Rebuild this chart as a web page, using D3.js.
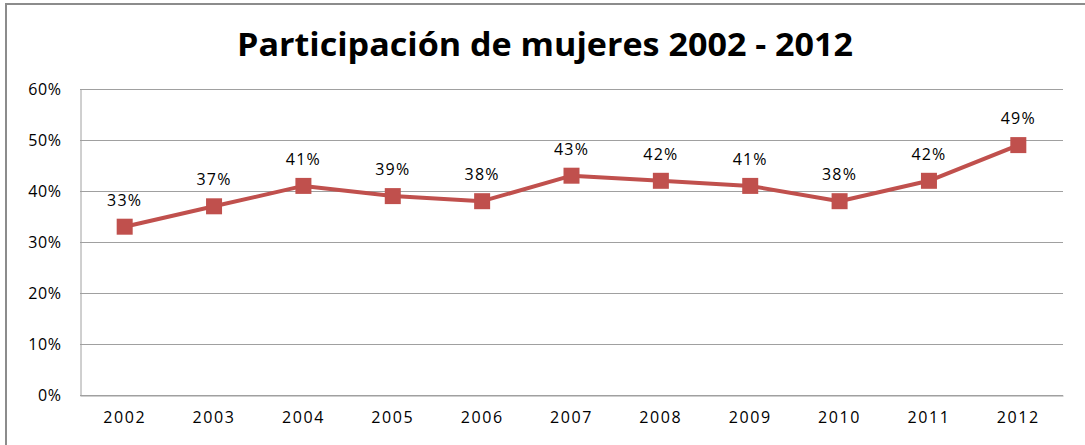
<!DOCTYPE html>
<html>
<head>
<meta charset="utf-8">
<script src="https://cdn.jsdelivr.net/npm/d3@7"></script>
<style>
  body { margin: 0; background: #fff; }
  svg { display: block; }
</style>
</head>
<body>
<svg id="chart" width="1085" height="445"></svg>
<script>
'use strict';

var years = ['2002', '2003', '2004', '2005', '2006', '2007', '2008', '2009', '2010', '2011', '2012'];
var shares = [0.33, 0.37, 0.41, 0.39, 0.38, 0.43, 0.42, 0.41, 0.38, 0.42, 0.49];
var yTicks = [0, 0.1, 0.2, 0.3, 0.4, 0.5, 0.6];
var title = 'Participación de mujeres 2002 - 2012';

var svg = d3.select('#chart');
var red = '#C0504D';
var font = '"Open Sans", sans-serif';
var plot = {left: 80, right: 1063, top: 89, bottom: 395};

// frame of the chart area (left and top edges visible)
svg.append('path')
    .attr('d', 'M6,445V4H1085')
    .attr('fill', 'none')
    .attr('stroke', '#8c8c8c')
    .attr('stroke-width', 2);

svg.append('text')
    .attr('x', 545)
    .attr('y', 56)
    .attr('text-anchor', 'middle')
    .attr('font-family', font)
    .attr('font-weight', 'bold')
    .attr('font-size', 33)
    .attr('textLength', 616)
    .attr('lengthAdjust', 'spacingAndGlyphs')
    .attr('fill', '#000')
    .text(title);

var x = d3.scaleBand()
    .domain(years)
    .range([plot.left, plot.right]);

var y = d3.scaleLinear()
    .domain([0, 0.6])
    .range([plot.bottom, plot.top]);

// gridlines
svg.append('g')
    .selectAll('line')
    .data(yTicks)
    .enter()
    .append('line')
    .attr('x1', plot.left)
    .attr('x2', plot.right)
    .attr('y1', function (d) { return Math.round(y(d)) + 0.5; })
    .attr('y2', function (d) { return Math.round(y(d)) + 0.5; })
    .attr('stroke', '#a0a0a0')
    .attr('stroke-width', 1);

// y axis
var yAxis = svg.append('g')
    .attr('transform', 'translate(' + (plot.left + 0.5) + ',0)')
    .call(d3.axisLeft(y).tickValues(yTicks).tickFormat(d3.format('.0%')).tickSize(0).tickPadding(19));
yAxis.select('.domain').attr('stroke', '#a0a0a0');
yAxis.selectAll('text')
    .attr('font-family', font)
    .attr('font-size', 16)
    .attr('letter-spacing', 0.6)
    .attr('fill', '#000');

// x axis
var xAxis = svg.append('g')
    .attr('transform', 'translate(0,' + (plot.bottom + 0.5) + ')')
    .call(d3.axisBottom(x).tickSize(0).tickPadding(16));
xAxis.select('.domain').attr('stroke', '#a0a0a0');
xAxis.selectAll('text')
    .attr('font-family', font)
    .attr('font-size', 16)
    .attr('letter-spacing', 1.6)
    .attr('fill', '#000');

var cx = function (d, i) { return x(years[i]) + x.bandwidth() / 2; };

var line = d3.line()
    .x(function (d, i) { return cx(d, i); })
    .y(function (d) { return y(d); });

svg.append('path')
    .datum(shares)
    .attr('d', line)
    .attr('fill', 'none')
    .attr('stroke', red)
    .attr('stroke-width', 4)
    .attr('stroke-linejoin', 'round');

svg.append('g')
    .selectAll('rect')
    .data(shares)
    .enter()
    .append('rect')
    .attr('x', function (d, i) { return cx(d, i) - 8; })
    .attr('y', function (d) { return y(d) - 8; })
    .attr('width', 16)
    .attr('height', 16)
    .attr('fill', red);

svg.append('g')
    .selectAll('text')
    .data(shares)
    .enter()
    .append('text')
    .attr('x', cx)
    .attr('y', function (d) { return y(d) - 21; })
    .attr('text-anchor', 'middle')
    .attr('font-family', font)
    .attr('font-size', 16)
    .attr('letter-spacing', 1.2)
    .attr('fill', '#000')
    .text(function (d) { return d3.format('.0%')(d); });
</script>
</body>
</html>
